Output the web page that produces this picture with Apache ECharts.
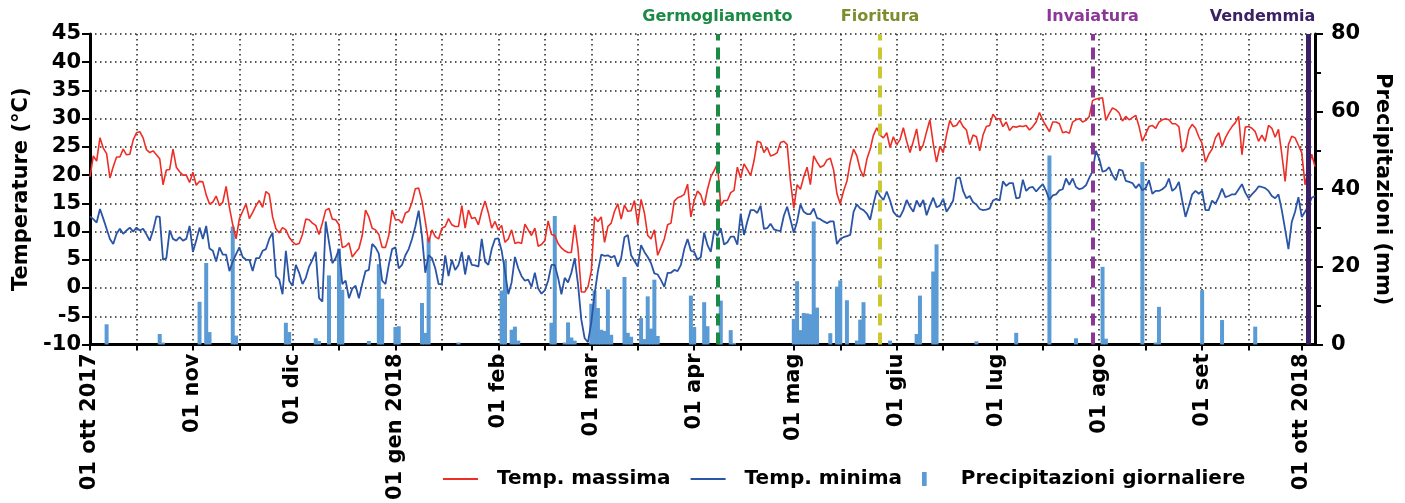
<!DOCTYPE html>
<html>
<head>
<meta charset="utf-8">
<title>Temperature e precipitazioni 2017-2018</title>
<script src="https://cdn.jsdelivr.net/npm/echarts@6/dist/echarts.min.js"></script>
<style>
  html, body { margin: 0; padding: 0; background: #fff; }
  #chart { width: 1405px; height: 503px; }
</style>
</head>
<body>
<div id="chart"></div>
<script>
// valori giornalieri, dal 01 ott 2017 al 05 ott 2018
var tempMax = [
  19.7, 23.4, 22.5, 26.6, 24.8, 23.8, 19.5, 21.5, 23.2, 23.2,
  24.6, 23.6, 23.7, 26.2, 27.5, 27.7, 26.6, 24.5, 24.0, 24.3,
  23.6, 22.9, 18.3, 20.9, 21.0, 24.6, 21.4, 20.6, 20.0, 20.0,
  18.7, 20.5, 18.2, 18.9, 18.8, 16.5, 14.9, 15.2, 16.3, 14.6,
  15.2, 18.0, 14.3, 11.2, 8.7, 12.3, 13.6, 14.9, 12.3, 13.4,
  14.6, 15.5, 14.3, 17.1, 16.6, 12.6, 10.5, 9.8, 10.7, 10.3,
  9.0, 8.2, 7.7, 7.9, 9.5, 12.2, 12.1, 11.5, 11.1, 9.5,
  11.5, 13.8, 14.1, 12.2, 12.1, 11.2, 7.2, 7.4, 8.0, 5.5,
  6.3, 7.0, 9.3, 13.8, 12.6, 10.6, 10.3, 9.5, 7.2, 7.2,
  9.3, 13.8, 12.1, 12.1, 11.5, 13.3, 13.6, 15.2, 17.6, 17.7,
  15.4, 11.8, 8.1, 10.3, 9.1, 8.7, 10.6, 10.9, 12.3, 11.2,
  10.9, 10.9, 14.6, 10.6, 13.8, 12.3, 12.5, 11.2, 13.6, 15.4,
  13.3, 10.6, 11.8, 10.3, 11.1, 8.1, 8.7, 10.3, 7.9, 8.1,
  7.9, 11.3, 10.3, 9.3, 10.6, 7.4, 7.7, 8.4, 11.9, 9.5,
  9.3, 7.9, 7.1, 6.6, 6.3, 6.3, 11.2, 7.0, -0.7, -0.7,
  0.2, 3.0, 12.6, 11.8, 12.6, 8.1, 10.9, 11.5, 13.6, 14.9,
  12.2, 14.7, 13.6, 13.7, 15.5, 11.3, 15.7, 13.3, 9.3, 8.7,
  10.3, 5.8, 7.2, 8.7, 11.2, 11.5, 15.4, 16.0, 16.2, 16.6,
  18.4, 12.6, 15.5, 17.2, 16.5, 14.6, 17.5, 19.7, 20.8, 22.0,
  14.6, 15.5, 15.5, 16.9, 17.3, 21.4, 19.5, 22.0, 21.0, 19.9,
  22.5, 26.0, 25.8, 24.0, 24.9, 23.4, 23.6, 24.0, 25.8, 26.0,
  25.4, 18.9, 14.1, 18.3, 17.5, 19.7, 21.4, 18.3, 23.4, 22.3,
  21.4, 21.7, 22.7, 23.0, 20.9, 16.7, 14.9, 17.2, 18.9, 22.3,
  24.6, 23.4, 21.0, 19.7, 22.8, 24.6, 27.1, 28.4, 27.1, 26.6,
  27.5, 24.9, 26.8, 25.4, 26.3, 28.4, 26.0, 24.0, 26.0, 28.2,
  24.3, 25.4, 27.7, 29.8, 25.6, 22.3, 25.1, 24.0, 27.1, 29.7,
  28.6, 28.8, 29.7, 28.6, 28.0, 25.4, 27.1, 26.8, 24.3, 27.1,
  28.6, 28.8, 30.8, 30.0, 30.0, 28.6, 29.4, 27.9, 28.6, 28.5,
  28.7, 28.6, 28.8, 28.0, 28.6, 29.4, 31.1, 29.7, 28.7, 27.7,
  29.4, 29.4, 29.1, 27.5, 27.7, 27.4, 29.4, 29.8, 30.0, 29.4,
  29.7, 30.4, 33.2, 33.5, 33.6, 33.7, 29.7, 30.9, 31.9, 31.6,
  31.0, 29.6, 30.4, 29.8, 30.2, 30.6, 28.6, 26.0, 27.3, 28.6,
  28.8, 28.3, 29.4, 29.8, 30.0, 29.8, 29.1, 29.1, 28.6, 24.1,
  25.0, 28.0, 29.0, 28.3, 26.8, 25.6, 22.3, 23.7, 24.6, 26.6,
  27.5, 25.1, 26.6, 27.7, 28.6, 29.3, 30.4, 23.6, 28.5, 28.6,
  28.3, 27.7, 26.0, 27.1, 26.0, 28.8, 28.3, 26.7, 28.1, 23.7,
  18.9, 25.4, 26.9, 26.6, 25.3, 24.0, 18.3, 21.0, 23.7, 21.5
]
var tempMin = [
  12.7, 12.2, 11.6, 14.0, 12.3, 10.5, 8.7, 7.8, 9.6, 10.5,
  9.6, 10.2, 10.7, 10.0, 10.7, 10.2, 10.5, 9.5, 8.4, 10.2,
  12.7, 12.6, 5.0, 5.3, 10.2, 8.7, 8.4, 9.0, 8.4, 8.7,
  11.0, 6.4, 8.4, 10.7, 8.7, 11.0, 7.0, 6.6, 4.7, 7.2,
  5.9, 5.9, 3.0, 4.7, 6.0, 7.2, 5.5, 5.0, 5.0, 3.0,
  5.3, 5.3, 6.6, 6.9, 8.7, 9.8, 2.1, 1.5, -1.1, 6.6,
  1.3, 0.4, 4.1, 2.7, 0.7, 1.8, 3.8, 5.0, 6.4, -1.8,
  -2.4, 11.8, 8.1, 4.4, 5.3, 6.9, 0.7, 1.3, -1.8, -0.1,
  0.4, -1.8, 0.7, 3.0, 3.2, 7.8, 7.2, 6.1, 1.3, 0.7,
  4.1, 6.9, 7.2, 3.5, 4.1, 5.8, 6.9, 8.7, 10.9, 13.7,
  9.2, 2.7, 5.8, 5.3, 3.5, 0.7, 0.7, 5.8, 2.1, 5.0,
  3.2, 4.1, 6.4, 2.4, 5.8, 4.1, 4.0, 3.8, 8.7, 4.7,
  4.1, 6.9, 8.7, 8.8, 6.6, 3.0, -1.1, 1.0, 5.5, 3.5,
  2.1, 1.3, 1.5, 0.2, 2.7, -0.1, -1.0, -0.4, 1.3, 4.1,
  4.1, 1.8, -1.1, 1.8, 1.0, 2.7, 5.3, 0.7, -5.6, -8.9,
  -9.6, -6.1, -1.0, 3.0, 5.9, 5.7, 5.8, 5.4, 5.7, 3.8,
  5.3, 9.0, 9.4, 5.8, 4.8, 3.8, 7.6, 6.4, 5.5, 4.4,
  2.6, 2.4, 1.4, 0.2, 2.7, 2.7, 3.2, 3.0, 4.1, 6.9,
  8.7, 6.6, 6.4, 5.0, 5.5, 9.8, 7.6, 6.4, 10.1, 9.2,
  10.6, 7.7, 8.1, 9.1, 9.1, 7.7, 13.2, 9.4, 11.8, 13.8,
  13.8, 13.3, 14.6, 10.5, 10.6, 11.4, 10.4, 10.2, 10.1, 12.8,
  14.4, 12.1, 9.8, 11.8, 14.8, 13.5, 13.1, 13.1, 14.1, 12.4,
  12.2, 11.8, 11.5, 11.8, 11.8, 7.8, 8.7, 9.0, 9.2, 9.4,
  13.5, 14.8, 14.1, 13.8, 13.2, 12.1, 14.9, 17.3, 16.3, 15.6,
  17.1, 15.5, 13.5, 12.8, 12.6, 13.8, 15.6, 14.4, 13.5, 15.5,
  14.4, 15.6, 12.9, 14.6, 16.0, 14.3, 14.6, 15.8, 13.5, 14.4,
  15.5, 19.4, 19.6, 17.2, 15.9, 16.3, 15.2, 14.8, 14.0, 13.8,
  13.9, 14.1, 15.5, 15.8, 15.5, 18.9, 18.1, 18.6, 18.6, 15.9,
  16.0, 19.2, 17.2, 17.8, 17.9, 17.1, 17.8, 18.4, 17.2, 15.6,
  16.4, 16.6, 17.3, 17.5, 19.4, 18.3, 19.4, 17.9, 17.5, 17.7,
  18.2, 19.5, 20.7, 24.3, 22.9, 20.6, 20.8, 21.4, 20.0, 19.1,
  21.0, 20.8, 19.0, 18.8, 18.6, 17.7, 18.4, 17.3, 17.7, 19.1,
  16.7, 17.2, 17.2, 17.5, 18.0, 19.4, 17.2, 17.7, 18.8, 15.5,
  12.6, 14.5, 16.6, 17.2, 16.7, 17.2, 13.8, 13.8, 15.5, 14.9,
  16.1, 17.6, 16.1, 16.3, 16.6, 16.6, 17.5, 18.4, 16.9, 15.9,
  16.6, 17.2, 18.0, 17.9, 17.7, 17.2, 16.3, 15.9, 16.6, 13.8,
  10.4, 6.9, 11.7, 13.5, 16.1, 12.6, 13.5, 14.5, 16.0, 16.3
]
var precip = [
  0, 0, 0, 0, 0, 5.2, 0, 0, 0, 0,
  0, 0, 0, 0, 0, 0, 0, 0, 0, 0,
  0, 2.7, 0.5, 0, 0, 0, 0, 0, 0, 0,
  0, 0, 0, 11, 0, 21, 3.2, 0, 0, 0,
  0, 0, 0, 30.4, 2.3, 0, 0, 0, 0, 0,
  0, 0, 0, 0, 0, 0, 0, 0, 0, 5.6,
  3.2, 0, 0, 0, 0, 0, 0, 0, 1.6, 0.9,
  0, 0, 17.8, 0, 0, 24.7, 14.1, 0, 0, 0,
  0, 0, 0, 0, 0.9, 0, 0, 20.7, 11.8, 0,
  0, 0, 4.5, 4.7, 0, 0, 0, 0, 0, 0,
  10.7, 3, 27.5, 0, 0, 0, 0, 0, 0, 0,
  0, 0.5, 0, 0, 0, 0, 0, 0, 0, 0,
  0, 0, 0, 0, 13.9, 21.7, 0, 3.8, 4.6, 1,
  0, 0, 0, 0, 0, 0, 0, 0, 0, 5.6,
  33.1, 0, 0, 0.5, 5.7, 1.8, 1, 0, 0, 0,
  0, 10.5, 13.9, 9.4, 3.8, 3.5, 14.2, 2.5, 0, 0,
  0, 17.4, 3, 2, 0, 0, 6.8, 1.4, 12.4, 4.1,
  16.7, 2.2, 0, 0, 0, 0, 0, 0, 0, 0,
  0, 12.6, 4.5, 0, 0, 10.9, 4.7, 0, 0, 0,
  11.3, 0, 0, 3.7, 0.4, 0, 0, 0, 0, 0,
  0, 0, 0, 0, 0, 0, 0, 0, 0, 0,
  0, 0, 6.6, 16.3, 3.7, 8.1, 8, 7.8, 31.7, 9.5,
  0, 0, 0, 2.9, 0, 14.9, 16.5, 0, 11.4, 0,
  0, 1, 6.4, 10.9, 0, 0, 0, 0, 0, 0,
  0, 1, 0, 0, 0, 0, 0, 0, 0, 2.7,
  12.6, 0, 0, 0, 18.8, 25.8, 0, 0, 0, 0,
  0, 0, 0, 0, 0, 0, 0, 0.8, 0, 0,
  0, 0, 0, 0, 0, 0, 0, 0, 0, 3,
  0, 0, 0, 0, 0, 0, 0, 0, 0, 48.7,
  0, 0, 0, 0, 0, 0, 0, 1.6, 0, 0,
  0, 0, 0, 0, 0, 20, 1.5, 0, 0, 0,
  0, 0, 0, 0, 0, 0, 0, 47, 0, 0,
  0, 0.5, 9.7, 0, 0, 0, 0, 0, 0, 0,
  0, 0, 0, 0, 0, 14, 0, 0, 0, 0,
  0, 6.3, 0, 0, 0, 0, 0, 0, 0, 0,
  0, 4.6, 0, 0, 0, 0, 0, 0, 0, 0,
  0, 0, 0, 0, 0, 0, 0, 0, 0, 0
]

// etichette dell'asse x (solo il primo del mese)
var tickLabels = {
  '2017-10-01': '01 ott 2017', '2017-11-01': '01 nov', '2017-12-01': '01 dic',
  '2018-01-01': '01 gen 2018', '2018-02-01': '01 feb', '2018-03-01': '01 mar',
  '2018-04-01': '01 apr', '2018-05-01': '01 mag', '2018-06-01': '01 giu',
  '2018-07-01': '01 lug', '2018-08-01': '01 ago', '2018-09-01': '01 set',
  '2018-10-01': '01 ott 2018'
}

// fasi fenologiche
var phaseNames = ['Germogliamento', 'Fioritura', 'Invaiatura', 'Vendemmia']
var phaseDates = ['2018-04-08', '2018-05-27', '2018-07-30', '2018-10-03']
var phaseLineColors = ['#1b8a45', '#cbc933', '#8b3797', '#3b2163']
var phaseTextColors = ['#1b8a45', '#7f8b2d', '#8b3797', '#3b2163']

function pad (n) { return n < 10 ? '0' + n : '' + n }

var days = []
for (var i = 0; i < tempMax.length; i++) {
  var dt = new Date(Date.UTC(2017, 9, 1 + i))
  days.push(dt.getUTCFullYear() + '-' + pad(dt.getUTCMonth() + 1) + '-' + pad(dt.getUTCDate()))
}

var FONT = 'DejaVu Sans'
var dotted = { color: '#222', width: 1.5, type: [1.5, 3.5] }
var lineIcon = 'path://M0,0h36v2h-36z'

var markData = phaseNames.map(function (name, k) {
  return {
    name: name,
    xAxis: phaseDates[k],
    lineStyle: {
      color: phaseLineColors[k],
      width: k === 3 ? 5 : 4,
      type: k === 3 ? 'solid' : [12, 7]
    }
  }
})

var chart = echarts.init(document.getElementById('chart'))
var option = {
  animation: false,
  backgroundColor: '#fff',
  grid: { left: 90, right: 90, top: 34, bottom: 147 },
  legend: {
    left: 438,
    top: 464,
    itemWidth: 35,
    itemHeight: 14,
    itemGap: 20,
    textStyle: { fontFamily: FONT, fontSize: 20, fontWeight: 'bold', color: '#000', padding: [0, 0, 0, 14] },
    data: [
      { name: 'Temp. massima', icon: lineIcon },
      { name: 'Temp. minima', icon: lineIcon },
      { name: 'Precipitazioni giornaliere', icon: 'path://M0,0h1v3h-1z' }
    ]
  },
  xAxis: {
    type: 'category',
    data: days,
    boundaryGap: false,
    axisLine: { onZero: false, lineStyle: { color: '#000', width: 3 } },
    axisTick: {
      show: true,
      length: 6,
      lineStyle: { color: '#000', width: 2 },
      interval: function (idx, val) { return val.slice(8) === '01' || val.slice(8) === '15' }
    },
    axisLabel: {
      rotate: 90,
      margin: 9,
      fontFamily: FONT,
      fontSize: 21,
      fontWeight: 'bold',
      color: '#000',
      interval: function (idx, val) { return val.slice(8) === '01' },
      formatter: function (val) { return tickLabels[val] || '' }
    },
    splitLine: {
      show: true,
      lineStyle: dotted,
      interval: function (idx, val) { return val.slice(8) === '01' || val.slice(8) === '15' }
    }
  },
  yAxis: [
    {
      type: 'value',
      min: -10,
      max: 45,
      interval: 5,
      name: 'Temperature (°C)',
      nameLocation: 'middle',
      nameGap: 56,
      nameTextStyle: { fontFamily: FONT, fontSize: 21, fontWeight: 'bold', color: '#000' },
      axisLine: { show: true, lineStyle: { color: '#000', width: 3 } },
      axisTick: { show: true, length: 8, lineStyle: { color: '#000', width: 2 } },
      axisLabel: { margin: 9, fontFamily: FONT, fontSize: 21, fontWeight: 'bold', color: '#000' },
      splitLine: { show: true, lineStyle: dotted }
    },
    {
      type: 'value',
      min: 0,
      max: 80,
      interval: 20,
      name: 'Precipitazioni (mm)',
      nameLocation: 'middle',
      nameRotate: -90,
      nameGap: 57,
      nameTextStyle: { fontFamily: FONT, fontSize: 21, fontWeight: 'bold', color: '#000' },
      axisLine: { show: true, lineStyle: { color: '#000', width: 3 } },
      axisTick: { show: true, length: 8, lineStyle: { color: '#000', width: 2 } },
      minorTick: { show: true, splitNumber: 2, length: 6, lineStyle: { color: '#000', width: 2 } },
      axisLabel: { margin: 16, fontFamily: FONT, fontSize: 21, fontWeight: 'bold', color: '#000' },
      splitLine: { show: false }
    }
  ],
  series: [
    {
      name: 'Precipitazioni giornaliere',
      type: 'bar',
      yAxisIndex: 1,
      data: precip,
      barWidth: 4,
      itemStyle: { color: '#5b9bd5' }
    },
    {
      name: 'Temp. massima',
      type: 'line',
      data: tempMax,
      showSymbol: false,
      symbol: 'none',
      lineStyle: { color: '#ee2e26', width: 1.6 },
      itemStyle: { color: '#ee2e26' }
    },
    {
      name: 'Temp. minima',
      type: 'line',
      data: tempMin,
      showSymbol: false,
      symbol: 'none',
      lineStyle: { color: '#2a54a6', width: 1.8 },
      itemStyle: { color: '#2a54a6' },
      markLine: {
        silent: true,
        symbol: ['none', 'none'],
        label: { show: false },
        data: markData
      }
    }
  ]
}
chart.setOption(option)

// nomi delle fasi sopra le linee verticali
var labels = phaseNames.map(function (name, k) {
  var x = chart.convertToPixel({ xAxisIndex: 0 }, days.indexOf(phaseDates[k]))
  var last = k === phaseNames.length - 1
  return {
    type: 'text',
    x: last ? x + 7 : x,
    y: 17,
    style: {
      text: name,
      fill: phaseTextColors[k],
      font: 'bold 16px "' + FONT + '"',
      align: last ? 'right' : 'center',
      verticalAlign: 'middle'
    }
  }
})
chart.setOption({ graphic: labels })
</script>
</body>
</html>
